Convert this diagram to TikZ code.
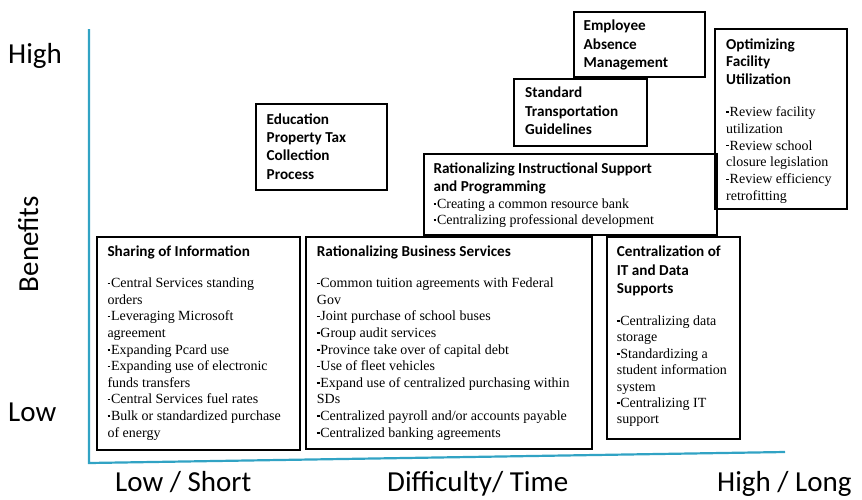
\documentclass[tikz,border=0pt]{standalone}
\usepackage{fontspec}
\setmainfont{Liberation Serif}
\newfontfamily\carlito{Carlito}
\definecolor{axisblue}{RGB}{49,163,196}
\newcommand{\firstln}{\rule{0pt}{12pt}}
\newcommand{\bmk}{\rule[3.6pt]{2.8pt}{1.5pt}\hspace{0.7pt}}
\tikzset{
  box/.style={draw=black, line width=1.8pt, inner sep=0pt, anchor=north west},
  ttl/.style={anchor=north west, inner sep=0pt, align=left, font=\carlito\bfseries\fontsize{15.2}{18.3}\selectfont},
  bul/.style={anchor=north west, inner sep=0pt, align=left, font=\fontsize{14}{16.6}\selectfont},
  axl/.style={font=\carlito\fontsize{29}{34}\selectfont, inner sep=0pt},
  axisline/.style={draw=axisblue, line width=2.2pt}
}
\begin{document}
\begin{tikzpicture}[x=1pt,y=-1pt]
\useasboundingbox (0,0) rectangle (862,499);
% axes
\coordinate (top) at (89,29);
\coordinate (origin) at (89,463);
\coordinate (right) at (785,452);
\draw[axisline] (top) -- (origin) -- (right);
% axis labels
\node[axl, anchor=base west] (high) at (8,63) {High};
\node[axl, anchor=base west] (low) at (8,421) {Low};
\node[axl, rotate=90, anchor=base] (ben) at (38,244) {Benefits};
\node[axl, anchor=base west] (lowshort) at (115,491.5) {Low / Short};
\node[axl, anchor=base west] (diff) at (387,491.5) {Difficulty/ Time};
\node[axl, anchor=base west] (highlong) at (717,491.5) {High / Long};
% boxes
\node[box, minimum width=131pt, minimum height=86pt] (edu) at (255,103) {};
\node[box, minimum width=131pt, minimum height=65pt] (emp) at (573,11) {};
\node[box, minimum width=133pt, minimum height=67pt] (std) at (513,78) {};
\node[box, minimum width=293pt, minimum height=81pt] (instr) at (423,153) {};
\node[box, minimum width=132pt, minimum height=180pt] (opt) at (714,28) {};
\node[box, minimum width=203pt, minimum height=213pt] (share) at (96,236) {};
\node[box, minimum width=286pt, minimum height=212pt] (bus) at (305,236) {};
\node[box, minimum width=133pt, minimum height=202pt] (it) at (606,236) {};
% texts
\node[ttl] (edut) at (266.5,112) {\firstln Education\\Property Tax\\Collection\\Process};
\node[ttl, font=\carlito\bfseries\fontsize{15.2}{18.5}\selectfont] (empt) at (583.5,18.7) {\firstln Employee\\Absence\\Management};
\node[ttl] (stdt) at (525,85.7) {\firstln Standard\\Transportation\\Guidelines};
\node[ttl] (instrt) at (433.3,161.3) {\firstln Rationalizing Instructional Support\\and Programming};
\node[bul, font=\fontsize{14}{15.7}\selectfont] (instrb) at (433.3,196.3) {\firstln \bmk Creating a common resource bank\\\bmk Centralizing professional development};
\node[ttl, font=\carlito\bfseries\fontsize{15.2}{17.7}\selectfont] (optt) at (726,37) {\firstln Optimizing\\Facility\\Utilization};
\node[bul, font=\fontsize{14}{16.8}\selectfont] (optb) at (726,104.2) {\firstln \bmk Review facility\\utilization\\\bmk Review school\\closure legislation\\\bmk Review efficiency\\retrofitting};
\node[ttl] (sharet) at (107.3,244.7) {\firstln Sharing of Information};
\node[bul] (shareb) at (107.3,275.5) {\firstln \bmk Central Services standing\\orders\\\bmk Leveraging Microsoft\\agreement\\\bmk Expanding Pcard use\\\bmk Expanding use of electronic\\funds transfers\\\bmk Central Services fuel rates\\\bmk Bulk or standardized purchase\\of energy};
\node[ttl] (bust) at (316.7,244.7) {\firstln Rationalizing Business Services};
\node[bul] (busb) at (316.7,275.5) {\firstln \bmk Common tuition agreements with Federal\\Gov\\\bmk Joint purchase of school buses\\\bmk Group audit services\\\bmk Province take over of capital debt\\\bmk Use of fleet vehicles\\\bmk Expand use of centralized purchasing within\\SDs\\\bmk Centralized payroll and/or accounts payable\\\bmk Centralized banking agreements};
\node[ttl] (itt) at (616.7,244.7) {\firstln Centralization of\\IT and Data\\Supports};
\node[bul, font=\fontsize{14}{16.4}\selectfont] (itb) at (616.7,313.2) {\firstln \bmk Centralizing data\\storage\\\bmk Standardizing a\\student information\\system\\\bmk Centralizing IT\\support};
\end{tikzpicture}
\end{document}
